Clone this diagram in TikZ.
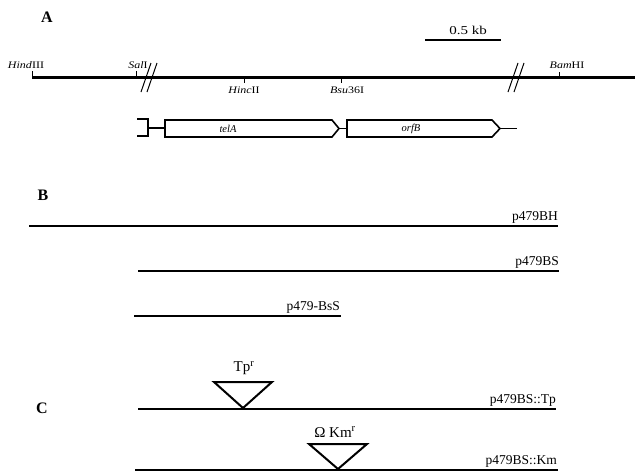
\documentclass[tikz,border=0pt]{standalone}
\usepackage{fontspec}
\usepackage{graphicx}
\setmainfont{Liberation Serif}
\newcommand{\sitefont}{\fontsize{10}{12}\selectfont}
\newcommand{\widetxt}[1]{\scalebox{1.2}[1]{#1}}
\begin{document}
\begin{tikzpicture}[x=1pt,y=-1pt,
  panel/.style={font=\fontsize{16}{18}\selectfont\bfseries, inner sep=0pt},
  site/.style={font=\sitefont, inner sep=0pt},
  mapline/.style={line width=3pt},
  tick/.style={line width=1pt},
  brk/.style={line width=1pt},
  genebox/.style={line width=1.6pt, line join=miter},
  construct/.style={line width=2pt},
  clab/.style={font=\fontsize{13.5}{15}\selectfont, inner sep=0pt, anchor=base east},
  insert/.style={line width=2pt, line join=miter},
  inslab/.style={font=\fontsize{15}{17}\selectfont, inner sep=0pt},
  glab/.style={font=\fontsize{10.5}{12}\selectfont\itshape, inner sep=0pt}]
\useasboundingbox (0,0) rectangle (635,474);

% ---------------- Panel A ----------------
\node[panel] (A) at (47,17) {A};
\node[font=\fontsize{12}{14}\selectfont, inner sep=0pt] (scale) at (468,30) {\scalebox{1.25}[1]{0.5 kb}};
\coordinate (sbL) at (425,40);
\coordinate (sbR) at (501,40);
\draw[line width=2.4pt] (sbL) -- (sbR);

\coordinate (mL) at (32,77);
\coordinate (mR) at (635,77);
\draw[mapline] (mL) -- (mR);

\coordinate (tH) at (32,71);
\coordinate (tS0) at (136,77);  \coordinate (tS) at (136,71);
\coordinate (tHc0) at (244,77); \coordinate (tHc) at (244,83);
\coordinate (tB0) at (341,77);  \coordinate (tB) at (341,83);
\coordinate (tBm0) at (559,77); \coordinate (tBm) at (559,72);
\draw[tick] (mL) -- (tH);
\draw[tick] (tS0) -- (tS);
\draw[tick] (tHc0) -- (tHc);
\draw[tick] (tB0) -- (tB);
\draw[tick] (tBm0) -- (tBm);

\node[site] (hind) at (26,65) {\widetxt{\textit{Hind}III}};
\node[site] (sal)  at (138,65) {\widetxt{\textit{Sal}I}};
\node[site] (hinc) at (244,90) {\widetxt{\textit{Hinc}II}};
\node[site] (bsu)  at (347,90) {\widetxt{\textit{Bsu}36I}};
\node[site] (bam)  at (567,65) {\widetxt{\textit{Bam}HI}};

% breaks
\draw[brk] (141,92) -- (151,63);
\draw[brk] (147,92) -- (157,63);
\draw[brk] (508,92) -- (518,63);
\draw[brk] (514,92) -- (524,63);

% gene map
\draw[genebox] (137,119) -- (148,119) -- (148,136) -- (137,136);
\coordinate (g0) at (148,128);
\coordinate (t0) at (165,128);
\draw[genebox] (g0) -- (t0);
\draw[genebox] (165,120) -- (332,120) -- (339,128.5) -- (332,137) -- (165,137) -- cycle;
\coordinate (t1) at (339,128.5);
\coordinate (o0) at (347,128.5);
\draw[genebox] (t1) -- (o0);
\draw[genebox] (347,120) -- (492,120) -- (500,128.5) -- (492,137) -- (347,137) -- cycle;
\coordinate (o1) at (500,128.5);
\coordinate (gend) at (517,128.5);
\draw[genebox] (o1) -- (gend);
\node[glab] (telA) at (228,128.5) {telA};
\node[glab] (orfB) at (411,128.5) {orfB};

% ---------------- Panel B ----------------
\node[panel] (B) at (43,195) {B};
\coordinate (bh0) at (29,226);  \coordinate (bh1) at (558,226);
\coordinate (bs0) at (138,271); \coordinate (bs1) at (559,271);
\coordinate (bss0) at (134,316); \coordinate (bss1) at (341,316);
\draw[construct] (bh0) -- (bh1);
\draw[construct] (bs0) -- (bs1);
\draw[construct] (bss0) -- (bss1);
\node[clab] (lbh) at (558,220) {p479BH};
\node[clab] (lbs) at (559,265.5) {p479BS};
\node[clab] (lbss) at (340,310.5) {p479-BsS};

% ---------------- Panel C ----------------
\node[panel] (C) at (42,408) {C};
\coordinate (tp0) at (138,409); \coordinate (tp1) at (556,409);
\coordinate (km0) at (135,470); \coordinate (km1) at (558,470);
\draw[construct] (tp0) -- (tp1);
\draw[construct] (km0) -- (km1);
\draw[insert] (214,382) -- (272,382) -- (243,408) -- cycle;
\draw[insert] (309,444) -- (367,444) -- (338,469) -- cycle;
\node[inslab] (tpr) at (244,368) {Tp\textsuperscript{r}};
\node[inslab] (kmr) at (335,432) {Ω Km\textsuperscript{r}};
\node[clab] (ltp) at (556,403) {p479BS::Tp};
\node[clab] (lkm) at (557,464) {p479BS::Km};
\end{tikzpicture}
\end{document}
